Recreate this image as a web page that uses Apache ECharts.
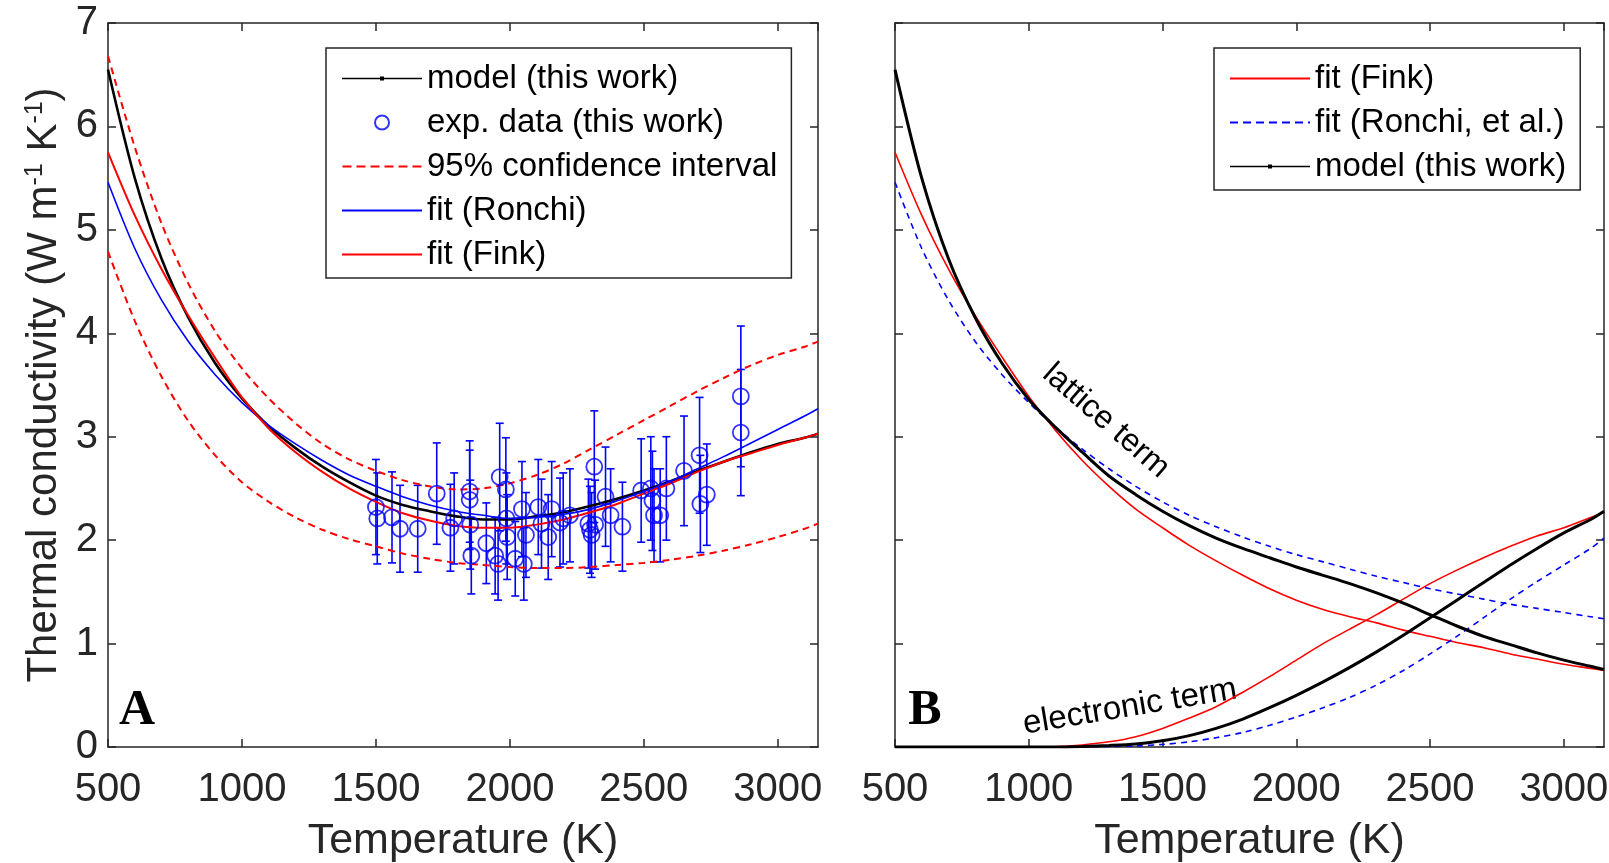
<!DOCTYPE html>
<html>
<head>
<meta charset="utf-8">
<script src="https://cdn.jsdelivr.net/npm/echarts@6/dist/echarts.min.js"></script>
<style>
  html, body { margin: 0; padding: 0; background: #fff; }
  #chart { width: 1609px; height: 863px; }
</style>
</head>
<body>
<div id="chart"></div>
<script>
// ---------------- data ----------------
// temperature grid for the curves (K)
const temps = [500,600,700,800,900,1000,1100,1200,1300,1400,1500,1600,1700,1800,1900,2000,2100,2200,2300,2400,2500,2600,2700,2800,2900,3000,3100,3150];

// Panel A: total thermal conductivity (W m^-1 K^-1)
const modelA   = [6.55,5.50,4.72,4.15,3.71,3.37,3.10,2.89,2.71,2.56,2.43,2.34,2.28,2.23,2.20,2.20,2.23,2.27,2.33,2.40,2.48,2.57,2.67,2.76,2.85,2.93,2.99,3.03];
const finkA    = [5.75,5.14,4.62,4.17,3.76,3.38,3.08,2.85,2.66,2.50,2.37,2.26,2.19,2.14,2.12,2.12,2.15,2.20,2.27,2.35,2.45,2.55,2.66,2.76,2.84,2.92,2.99,3.03];
const ronchiA  = [5.46,4.82,4.32,3.92,3.60,3.33,3.11,2.93,2.77,2.63,2.52,2.42,2.34,2.28,2.24,2.21,2.22,2.25,2.30,2.38,2.47,2.57,2.69,2.81,2.94,3.07,3.20,3.27];
const ciUpperA = [6.68,5.80,5.06,4.48,4.02,3.66,3.37,3.13,2.93,2.78,2.67,2.58,2.52,2.49,2.50,2.55,2.63,2.74,2.88,3.02,3.16,3.30,3.44,3.57,3.69,3.79,3.87,3.92];
const ciLowerA = [4.79,4.12,3.58,3.15,2.82,2.56,2.37,2.22,2.10,2.01,1.94,1.87,1.82,1.78,1.76,1.74,1.73,1.73,1.74,1.76,1.78,1.81,1.85,1.90,1.96,2.03,2.11,2.16];

// Panel A: experimental points with error bars
const expT   = [1500,1505,1560,1590,1656,1727,1778,1792,1850,1850,1852,1856,1912,1945,1956,1962,1985,1987,1990,2020,2045,2052,2060,2106,2118,2143,2156,2187,2199,2224,2293,2299,2305,2315,2318,2357,2376,2420,2490,2526,2532,2538,2561,2584,2650,2708,2711,2735,2862,2862];
const expK   = [2.32,2.21,2.22,2.11,2.11,2.45,2.12,2.21,2.47,2.39,2.15,1.85,1.97,1.85,1.77,2.61,2.49,2.21,2.03,1.82,2.30,1.77,2.05,2.32,2.16,2.03,2.30,2.17,2.21,2.24,2.16,2.10,2.05,2.71,2.15,2.42,2.24,2.13,2.48,2.50,2.38,2.24,2.24,2.50,2.67,2.82,2.35,2.44,3.39,3.04];
const expErr = [0.46,0.44,0.44,0.42,0.42,0.49,0.42,0.44,0.49,0.48,0.43,0.37,0.39,0.37,0.35,0.52,0.50,0.44,0.41,0.36,0.46,0.35,0.41,0.46,0.43,0.41,0.46,0.43,0.44,0.45,0.43,0.42,0.41,0.54,0.43,0.48,0.45,0.43,0.50,0.50,0.48,0.45,0.45,0.50,0.53,0.56,0.47,0.49,0.68,0.61];

// Panel B: lattice and electronic terms
const modelLatB  = [6.55,5.50,4.72,4.15,3.71,3.36,3.09,2.85,2.62,2.44,2.28,2.14,2.02,1.92,1.83,1.74,1.66,1.58,1.49,1.39,1.28,1.17,1.07,0.99,0.91,0.84,0.78,0.75];
const modelElB   = [0,0,0,0,0,0,0,0.005,0.015,0.03,0.06,0.11,0.18,0.27,0.38,0.50,0.63,0.77,0.92,1.08,1.25,1.42,1.59,1.76,1.92,2.07,2.20,2.28];
const finkLatB   = [5.75,5.14,4.62,4.17,3.77,3.39,3.06,2.77,2.52,2.30,2.12,1.95,1.80,1.66,1.53,1.42,1.33,1.26,1.20,1.13,1.07,1.01,0.96,0.90,0.85,0.80,0.76,0.74];
const finkElB    = [0,0,0,0,0,0,0.003,0.02,0.05,0.10,0.18,0.28,0.39,0.53,0.68,0.84,1.00,1.14,1.28,1.43,1.58,1.71,1.83,1.94,2.04,2.12,2.22,2.27];
const ronchiLatB = [5.46,4.82,4.32,3.92,3.60,3.33,3.09,2.88,2.69,2.52,2.37,2.24,2.13,2.03,1.94,1.86,1.79,1.72,1.65,1.59,1.53,1.48,1.43,1.38,1.34,1.30,1.26,1.24];
const ronchiElB  = [0,0,0,0,0,0,0,0,0.005,0.01,0.025,0.05,0.09,0.14,0.21,0.29,0.38,0.48,0.60,0.74,0.90,1.07,1.25,1.43,1.60,1.76,1.92,2.02];

// axis ranges / tick labels
const xMin = 500, xMax = 3150, xStep = 500;
const yMin = 0, yMax = 7, yStep = 1;

// text
const xTitle = 'Temperature (K)';
const yTitle = 'Thermal conductivity (W m{s|-1} K{s|-1})';
const namesA = ['model (this work)', 'exp. data (this work)', '95% confidence interval', 'fit (Ronchi)', 'fit (Fink)'];
const namesB = ['fit (Fink)', 'fit (Ronchi, et al.)', 'model (this work)'];

// ---------------- styling ----------------
const FONT = '"Liberation Sans", Arial, Helvetica, sans-serif';
const AX = '#262626';
const RED = '#ff0000', BLUE = '#0000ff', BLACK = '#000000';

const pairs = (arr) => temps.map((t, i) => [t, arr[i]]);

// legend icons (80 x 14 box)
const BOX = 'M0,0M0,14';
const ICON_SOLID = 'path://' + BOX + 'M0,6L80,6L80,8L0,8Z';
const ICON_MODEL = 'path://' + BOX + 'M0,6.3L80,6.3L80,7.7L0,7.7ZM38,5L42,5L42,9L38,9Z';
function dashIcon(d, g) {
  let s = 'path://' + BOX;
  for (let a = 0; a < 80; a += d + g) {
    const b = Math.min(80, a + d);
    s += 'M' + a + ',6L' + b + ',6L' + b + ',8L' + a + ',8Z';
  }
  return s;
}
const ICON_DASH = dashIcon(9, 5);

function xAxis(grid, top) {
  return {
    type: 'value', gridIndex: grid, position: top ? 'top' : 'bottom',
    min: xMin, max: xMax, interval: xStep,
    axisLine: { show: true, onZero: false, lineStyle: { color: AX, width: 1.5 } },
    axisTick: { show: true, inside: true, length: 8, lineStyle: { color: AX, width: 1.5 } },
    axisLabel: top ? { show: false } : {
      show: true, fontSize: 40, color: AX, fontFamily: FONT, margin: 23, showMaxLabel: false,
      formatter: (v) => String(v)
    },
    splitLine: { show: false },
    name: top ? '' : xTitle, nameLocation: 'middle', nameGap: 73,
    nameTextStyle: { fontSize: 43, color: AX, fontFamily: FONT }
  };
}
function yAxis(grid, right, labels) {
  const o = {
    type: 'value', gridIndex: grid, position: right ? 'right' : 'left',
    min: yMin, max: yMax, interval: yStep,
    axisLine: { show: true, onZero: false, lineStyle: { color: AX, width: 1.5 } },
    axisTick: { show: true, inside: true, length: 8, lineStyle: { color: AX, width: 1.5 } },
    axisLabel: labels ? { show: true, fontSize: 40, color: AX, fontFamily: FONT, margin: 10, formatter: (v) => String(v) } : { show: false },
    splitLine: { show: false }
  };
  if (labels) {
    o.name = yTitle;
    o.nameLocation = 'middle';
    o.nameRotate = 90;
    o.nameGap = 43;
    o.nameTextStyle = {
      fontSize: 42, color: AX, fontFamily: FONT,
      rich: { s: { fontSize: 25, color: AX, fontFamily: FONT, verticalAlign: 'top' } }
    };
  }
  return o;
}
function line(name, arr, xi, color, width, dashed, dash) {
  return {
    type: 'line', name: name, xAxisIndex: xi, yAxisIndex: xi,
    data: pairs(arr), symbol: 'none', showSymbol: false,
    smooth: 0.3,
    lineStyle: { color: color, width: width, type: dashed ? (dash || [7, 5]) : 'solid' },
    itemStyle: { color: color },
    silent: true, z: 3
  };
}

const expData = expT.map((t, i) => [t, expK[i], expErr[i]]);

const legendBase = {
  orient: 'vertical', top: 48, padding: [14, 14, 7, 16], itemGap: 11,
  itemWidth: 80, itemHeight: 14, selectedMode: false,
  borderColor: AX, borderWidth: 1.5, backgroundColor: '#fff',
  textStyle: { fontSize: 33, color: '#000', fontFamily: FONT },
  itemStyle: { borderWidth: 0 }
};

const option = {
  animation: false,
  backgroundColor: '#ffffff',
  grid: [
    { left: 108, top: 23, width: 710, height: 724, containLabel: false, outerBoundsMode: 'none' },
    { left: 895, top: 23, width: 709, height: 724, containLabel: false, outerBoundsMode: 'none' }
  ],
  xAxis: [xAxis(0, false), xAxis(0, true), xAxis(1, false), xAxis(1, true)],
  yAxis: [yAxis(0, false, true), yAxis(0, true, false), yAxis(1, false, false), yAxis(1, true, false)],
  legend: [
    Object.assign({}, legendBase, {
      left: 326,
      data: [
        { name: namesA[0], icon: ICON_MODEL },
        { name: namesA[1], icon: 'emptyCircle', itemStyle: { color: BLUE } },
        { name: namesA[2], icon: ICON_DASH },
        { name: namesA[3], icon: ICON_SOLID },
        { name: namesA[4], icon: ICON_SOLID }
      ]
    }),
    Object.assign({}, legendBase, {
      left: 1214,
      data: [
        { name: namesB[0], icon: ICON_SOLID },
        { name: namesB[1], icon: dashIcon(8, 5) },
        { name: namesB[2], icon: ICON_MODEL }
      ]
    })
  ],
  series: [
    // ---- panel A ----
    line(namesA[0], modelA, 0, BLACK, 2.6, false),
    {
      type: 'custom', name: 'errorbars', xAxisIndex: 0, yAxisIndex: 0,
      data: expData, silent: true, z: 3,
      encode: { x: 0, y: 1 },
      renderItem: function (params, api) {
        const x = api.value(0), y = api.value(1), e = api.value(2);
        const top = api.coord([x, y + e]);
        const bot = api.coord([x, y - e]);
        const cap = 4;
        const st = { stroke: BLUE, lineWidth: 1.6 };
        return {
          type: 'group',
          children: [
            { type: 'line', shape: { x1: top[0], y1: top[1], x2: bot[0], y2: bot[1] }, style: st },
            { type: 'line', shape: { x1: top[0] - cap, y1: top[1], x2: top[0] + cap, y2: top[1] }, style: st },
            { type: 'line', shape: { x1: bot[0] - cap, y1: bot[1], x2: bot[0] + cap, y2: bot[1] }, style: st }
          ]
        };
      }
    },
    {
      type: 'scatter', name: namesA[1], xAxisIndex: 0, yAxisIndex: 0,
      data: expData.map(d => [d[0], d[1]]), symbol: 'circle', symbolSize: 16,
      itemStyle: { color: 'rgba(0,0,0,0)', borderColor: BLUE, borderWidth: 1.8 },
      silent: true, z: 3
    },
    line(namesA[2], ciUpperA, 0, RED, 2, true, [7, 5]),
    line(namesA[2], ciLowerA, 0, RED, 2, true, [7, 5]),
    line(namesA[3], ronchiA, 0, BLUE, 1.6, false),
    line(namesA[4], finkA, 0, RED, 2, false),
    // ---- panel B ----
    line(namesB[0], finkLatB, 2, RED, 1.6, false),
    line(namesB[0], finkElB, 2, RED, 1.6, false),
    line(namesB[1], ronchiLatB, 2, BLUE, 1.6, true, [6, 5]),
    line(namesB[1], ronchiElB, 2, BLUE, 1.6, true, [6, 5]),
    line(namesB[2], modelLatB, 2, BLACK, 3, false),
    line(namesB[2], modelElB, 2, BLACK, 3, false)
  ],
  graphic: [
    { type: 'text', x: 137, y: 711, silent: true,
      style: { text: 'A', font: 'bold 50px "Liberation Serif", "Times New Roman", serif', fill: '#000', align: 'center', verticalAlign: 'middle' } },
    { type: 'text', x: 925, y: 711, silent: true,
      style: { text: 'B', font: 'bold 50px "Liberation Serif", "Times New Roman", serif', fill: '#000', align: 'center', verticalAlign: 'middle' } },
    { type: 'text', x: 1106, y: 421, rotation: -0.716, silent: true,
      style: { text: 'lattice term', font: '32px "Liberation Sans", Arial, sans-serif', fill: '#000', align: 'center', verticalAlign: 'middle' } },
    { type: 'text', x: 1130, y: 707, rotation: 0.166, silent: true,
      style: { text: 'electronic term', font: '33px "Liberation Sans", Arial, sans-serif', fill: '#000', align: 'center', verticalAlign: 'middle' } }
  ]
};

const chart = echarts.init(document.getElementById('chart'), null, { renderer: 'canvas' });
chart.setOption(option);
</script>
</body>
</html>
